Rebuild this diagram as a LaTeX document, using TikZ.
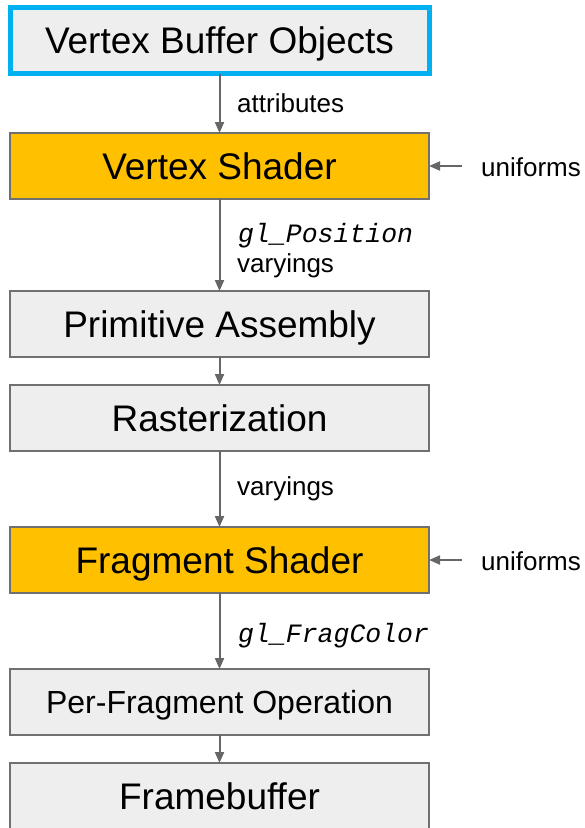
\documentclass[tikz,border=0pt]{standalone}
\usepackage{fontspec}
\setmainfont{Liberation Sans}
\newfontfamily\codefont{Liberation Mono}
\usetikzlibrary{arrows.meta, positioning}
\definecolor{boxgray}{HTML}{EEEEEE}
\definecolor{edgegray}{HTML}{707070}
\definecolor{arrgray}{HTML}{666666}
\definecolor{shaderorange}{HTML}{FFC000}
\definecolor{vboblue}{HTML}{00B0F0}

\begin{document}
\begin{tikzpicture}[x=1pt, y=-1pt,
  stage/.style  ={rectangle, draw=edgegray, line width=2pt, fill=boxgray,
                  minimum width=419pt, minimum height=66pt, outer sep=0pt, inner sep=0pt,
                  text height=26.5pt, text depth=0pt,
                  font=\fontsize{37pt}{42pt}\selectfont},
  shader/.style ={stage, fill=shaderorange},
  small/.style  ={font=\fontsize{32pt}{36pt}\selectfont, text height=23pt},
  lbl/.style    ={inner sep=0pt, anchor=base west, font=\fontsize{26pt}{30pt}\selectfont},
  code/.style   ={lbl, font=\fontsize{26.5pt}{30pt}\codefont\itshape},
  arr/.style    ={-{Triangle[length=11pt, width=9pt]}, arrgray, line width=2pt},
]
\clip (0,0) rectangle (585,828);

% Pipeline stages
\node[stage, draw=vboblue, line width=5pt] (vbo) at (219.5,40.5) {Vertex Buffer Objects};
\node[shader, below=59.5pt of vbo] (vs)   {Vertex Shader};
\node[stage,  below=92pt of vs]    (pa)   {Primitive Assembly};
\node[stage,  below=28pt of pa]    (rast) {Rasterization};
\node[shader, below=76pt of rast]  (fs)   {Fragment Shader};
\node[stage, small, below=76pt of fs] (pfo) {Per-Fragment Operation};
\node[stage,  below=28pt of pfo]   (fb)   {Framebuffer};

% Labels on the wires
\node[lbl]  (attr)  at (237,112) {attributes};
\node[code] (pos)   at (238,242) {gl\_Position};
\node[lbl]  (vary1) at (237,272) {varyings};
\node[lbl]  (vary2) at (237,495) {varyings};
\node[code] (frag)  at (238,642) {gl\_FragColor};

% Uniform inputs
\node[lbl] (uni1) at (481,176.5) {uniforms};
\node[lbl] (uni2) at (481,570)   {uniforms};
\coordinate (u1) at (462,166);
\coordinate (u2) at (462,560);

% Wires
\draw[arr] (vbo) -- (vs);
\draw[arr] (vs) -- (pa);
\draw[arr] (pa) -- (rast);
\draw[arr] (rast) -- (fs);
\draw[arr] (fs) -- (pfo);
\draw[arr] (pfo) -- (fb);

\draw[arr] (u1) -- (vs.east |- u1);
\draw[arr] (u2) -- (fs.east |- u2);

\end{tikzpicture}
\end{document}
